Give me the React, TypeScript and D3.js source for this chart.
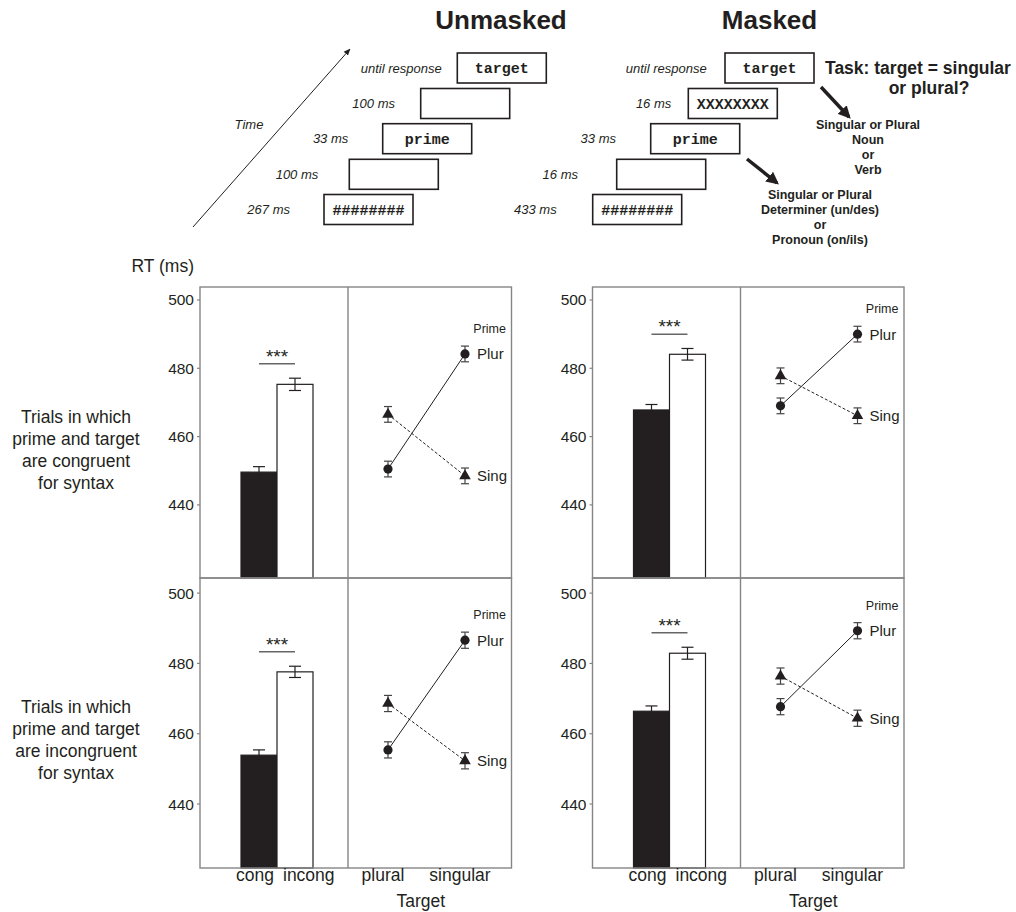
import React from "react";
import * as d3 from "d3";

// ---------- DATA ----------
const groups = ["Unmasked", "Masked"];
const rowLabels = [
  ["Trials in which", "prime and target", "are congruent", "for syntax"],
  ["Trials in which", "prime and target", "are incongruent", "for syntax"],
];
const conditions = ["cong", "incong"];
const targets = ["plural", "singular"];
const primes = ["Plur", "Sing"];
const yTicks = [440, 460, 480, 500];
const rowDomains: [number, number][] = [
  [418.6, 503.8],
  [421.8, 504.3],
];

// bar means [cong, incong]
const barsUnmaskedCongruent = [449.6, 475.3];
const barsMaskedCongruent = [467.8, 484.1];
const barsUnmaskedIncongruent = [453.9, 477.6];
const barsMaskedIncongruent = [466.4, 482.9];
const barErrUnmaskedCongruent = [1.6, 1.8];
const barErrMaskedCongruent = [1.6, 1.7];
const barErrUnmaskedIncongruent = [1.5, 1.6];
const barErrMaskedIncongruent = [1.5, 1.7];
const sigLevel = [
  [481.3, 490.0],
  [483.3, 488.7],
];

// line means [plural target, singular target]
const plurUnmaskedCongruent = [450.5, 484.2];
const singUnmaskedCongruent = [466.5, 448.5];
const plurMaskedCongruent = [469.0, 490.0];
const singMaskedCongruent = [477.8, 466.1];
const plurUnmaskedIncongruent = [455.4, 486.6];
const singUnmaskedIncongruent = [468.6, 452.3];
const plurMaskedIncongruent = [467.7, 489.3];
const singMaskedIncongruent = [476.4, 464.4];
const lineErr = [2.3, 2.3];

const barData = [
  [barsUnmaskedCongruent, barsMaskedCongruent],
  [barsUnmaskedIncongruent, barsMaskedIncongruent],
];
const barErrData = [
  [barErrUnmaskedCongruent, barErrMaskedCongruent],
  [barErrUnmaskedIncongruent, barErrMaskedIncongruent],
];
const lineData = [
  [
    [plurUnmaskedCongruent, singUnmaskedCongruent],
    [plurMaskedCongruent, singMaskedCongruent],
  ],
  [
    [plurUnmaskedIncongruent, singUnmaskedIncongruent],
    [plurMaskedIncongruent, singMaskedIncongruent],
  ],
];

// procedure diagram
const unmaskedSteps = [
  { label: "267 ms", text: "########" },
  { label: "100 ms", text: "" },
  { label: "33 ms", text: "prime" },
  { label: "100 ms", text: "" },
  { label: "until response", text: "target" },
];
const maskedSteps = [
  { label: "433 ms", text: "########" },
  { label: "16 ms", text: "" },
  { label: "33 ms", text: "prime" },
  { label: "16 ms", text: "XXXXXXXX" },
  { label: "until response", text: "target" },
];

// ---------- LAYOUT ----------
const FONT = "'Liberation Sans', Arial, Helvetica, sans-serif";
const MONO = "'Liberation Mono', 'Courier New', monospace";
const INK = "#231f20";
const FRAME = "#858585";
const groupLeft = [200, 592.5];
const barW = 148;
const lineW = 163.5;
const rowTop = [287, 578];
const rowBottom = [578, 868];

const diagBoxX = [
  [324, 349.3, 382.7, 420.7, 457.3],
  [592.7, 616.7, 650.7, 688.3, 725],
];
const diagBoxY = [194.5, 159.3, 123.7, 88.5, 53];
const diagLabelOffset = [
  [-34, -31, -34.4, -25.7, -15.6],
  [-36, -38.7, -34.7, -17, -18.3],
];

function Diagram({ steps, gi }: { steps: { label: string; text: string }[]; gi: number }) {
  return (
    <g>
      {steps.map((s, i) => {
        const x = diagBoxX[gi][i];
        const y = diagBoxY[i];
        return (
          <g key={i}>
            <rect x={x} y={y} width={89} height={30} fill="#fff" stroke={INK} strokeWidth={1.6} />
            {s.text && (
              <text x={x + 44.5} y={y + 20} textAnchor="middle" fontFamily={MONO} fontWeight="bold" fontSize={15} fill={INK}>
                {s.text}
              </text>
            )}
            <text x={x + diagLabelOffset[gi][i]} y={y + 19.5} textAnchor="end" fontFamily={FONT} fontStyle="italic" fontSize={13} fill={INK}>
              {s.label}
            </text>
          </g>
        );
      })}
    </g>
  );
}

function Panel({ gi, ri }: { gi: number; ri: number }) {
  const left = groupLeft[gi];
  const top = rowTop[ri];
  const bottom = rowBottom[ri];
  const divX = left + barW;
  const right = divX + lineW;
  const y = d3.scaleLinear().domain(rowDomains[ri]).range([bottom, top]);
  const xb = d3.scaleBand().domain(conditions).range([left + 41, left + 113]).padding(0);
  const xp = d3.scalePoint().domain(targets).range([divX + 40, divX + 117]);
  const bars = barData[ri][gi];
  const errs = barErrData[ri][gi];
  const lines = lineData[ri][gi];
  const line = d3
    .line<number>()
    .x((_, i) => xp(targets[i]) as number)
    .y((d) => y(d));
  const tri = d3.symbol().type(d3.symbolTriangle).size(58)() as string;
  const sig = sigLevel[ri][gi];
  return (
    <g>
      {/* bars */}
      {conditions.map((c, i) => (
        <rect
          key={c}
          x={xb(c)}
          y={y(bars[i])}
          width={xb.bandwidth()}
          height={bottom - y(bars[i])}
          fill={i === 0 ? INK : "#fff"}
          stroke={INK}
          strokeWidth={1.2}
        />
      ))}
      {conditions.map((c, i) => {
        const cx = (xb(c) as number) + xb.bandwidth() / 2;
        const y1 = y(bars[i] + errs[i]);
        const y2 = y(bars[i] - errs[i]);
        return (
          <g key={c + "e"} stroke={INK} strokeWidth={1.2}>
            <line x1={cx} x2={cx} y1={y1} y2={y2} />
            <line x1={cx - 6} x2={cx + 6} y1={y1} y2={y1} />
            <line x1={cx - 6} x2={cx + 6} y1={y2} y2={y2} />
          </g>
        );
      })}
      {/* significance */}
      {(() => {
        const x1 = (xb("cong") as number) + xb.bandwidth() / 2;
        const x2 = (xb("incong") as number) + xb.bandwidth() / 2;
        return (
          <g>
            <line x1={x1} x2={x2} y1={y(sig)} y2={y(sig)} stroke="#666" strokeWidth={1.5} />
            <text x={(x1 + x2) / 2} y={y(sig) - 1} textAnchor="middle" fontFamily={FONT} fontSize={19} fill={INK}>
              ***
            </text>
          </g>
        );
      })()}
      {/* frame */}
      <rect x={left} y={top} width={barW + lineW} height={bottom - top} fill="none" stroke={FRAME} strokeWidth={1.4} />
      <line x1={divX} x2={divX} y1={top} y2={bottom} stroke={FRAME} strokeWidth={1.4} />
      {/* y ticks */}
      {yTicks.map((t) => (
        <g key={t}>
          <line x1={left - 3} x2={left} y1={y(t)} y2={y(t)} stroke={FRAME} strokeWidth={1.2} />
          <text x={left - 6} y={y(t) + 5.5} textAnchor="end" fontFamily={FONT} fontSize={15.5} fill={INK}>
            {t}
          </text>
        </g>
      ))}
      {/* lines */}
      {lines.map((vals, pi) => (
        <path
          key={pi}
          d={line(vals) as string}
          fill="none"
          stroke={INK}
          strokeWidth={1}
          strokeDasharray={pi === 1 ? "3,2" : undefined}
        />
      ))}
      {lines.map((vals, pi) =>
        vals.map((v, ti) => {
          const cx = xp(targets[ti]) as number;
          const cy = y(v);
          const y1 = y(v + lineErr[ti]);
          const y2 = y(v - lineErr[ti]);
          return (
            <g key={pi + "-" + ti}>
              <g stroke="#444" strokeWidth={1.2}>
                <line x1={cx} x2={cx} y1={y1} y2={y2} />
                <line x1={cx - 4} x2={cx + 4} y1={y1} y2={y1} />
                <line x1={cx - 4} x2={cx + 4} y1={y2} y2={y2} />
              </g>
              {pi === 0 ? (
                <circle cx={cx} cy={cy} r={4.6} fill={INK} />
              ) : (
                <path d={tri} transform={`translate(${cx},${cy})`} fill={INK} />
              )}
            </g>
          );
        })
      )}
      {/* prime legend */}
      {lines.map((vals, pi) => (
        <text
          key={"l" + pi}
          x={(xp("singular") as number) + 12}
          y={y(vals[1]) + 5.5}
          fontFamily={FONT}
          fontSize={15}
          fill={INK}
        >
          {primes[pi]}
        </text>
      ))}
      <text x={right - 5.5} y={y(lines[0][1]) - 21} textAnchor="end" fontFamily={FONT} fontSize={12.5} fill={INK}>
        Prime
      </text>
      {/* x labels (bottom row only) */}
      {ri === 1 && (
        <g fontFamily={FONT} fontSize={17.5} fill={INK}>
          <text x={(xb("incong") as number) - 3} y={881} textAnchor="end">
            cong
          </text>
          <text x={(xb("incong") as number) + 6} y={881} textAnchor="start">
            incong
          </text>
          {targets.map((t) => (
            <text key={t} x={(xp(t) as number) - 5} y={881} textAnchor="middle">
              {t}
            </text>
          ))}
          <text x={(divX + right) / 2 - 9} y={907} textAnchor="middle">
            Target
          </text>
        </g>
      )}
    </g>
  );
}

export default function App() {
  return (
    <div style={{ position: "absolute", left: 0, top: 0, width: 1016, height: 912, background: "#fff" }}>
      <svg width={1016} height={912} viewBox="0 0 1016 912" style={{ display: "block" }}>
        <defs>
          <marker id="thinArrow" viewBox="0 0 10 10" refX="9" refY="5" markerWidth="7" markerHeight="7" orient="auto">
            <path d="M0,1 L10,5 L0,9 z" fill={INK} />
          </marker>
          <marker id="boldArrow" viewBox="0 0 10 10" refX="8" refY="5" markerWidth="3.6" markerHeight="3.6" orient="auto">
            <path d="M0,0 L10,5 L0,10 z" fill={INK} />
          </marker>
        </defs>
        <rect width={1016} height={912} fill="#fff" />
        {/* titles */}
        <text x={501} y={28.5} textAnchor="middle" fontFamily={FONT} fontWeight="bold" fontSize={26} fill={INK}>
          {groups[0]}
        </text>
        <text x={769.5} y={28.5} textAnchor="middle" fontFamily={FONT} fontWeight="bold" fontSize={26} fill={INK}>
          {groups[1]}
        </text>
        {/* time arrow */}
        <line x1={193} y1={227} x2={350} y2={49} stroke={INK} strokeWidth={1} markerEnd="url(#thinArrow)" />
        <text x={249} y={128.5} textAnchor="middle" fontFamily={FONT} fontStyle="italic" fontSize={13} fill={INK}>
          Time
        </text>
        <Diagram steps={unmaskedSteps} gi={0} />
        <Diagram steps={maskedSteps} gi={1} />
        {/* bold arrows */}
        <line x1={821} y1={87} x2={849} y2={117} stroke={INK} strokeWidth={3.5} markerEnd="url(#boldArrow)" />
        <line x1={747} y1={159} x2={777} y2={183} stroke={INK} strokeWidth={3.5} markerEnd="url(#boldArrow)" />
        <g fontFamily={FONT} fontWeight="bold" fill={INK}>
          <text x={825} y={74} fontSize={17.5}>
            Task: target = singular
          </text>
          <text x={929} y={94} fontSize={17.5} textAnchor="middle">
            or plural?
          </text>
          {["Singular or Plural", "Noun", "or", "Verb"].map((t, i) => (
            <text key={t} x={868} y={128.5 + i * 15} fontSize={12.5} textAnchor="middle">
              {t}
            </text>
          ))}
          {["Singular or Plural", "Determiner (un/des)", "or", "Pronoun (on/ils)"].map((t, i) => (
            <text key={t} x={820} y={198.5 + i * 15.3} fontSize={12.5} textAnchor="middle">
              {t}
            </text>
          ))}
        </g>
        {/* y axis title */}
        <text x={194} y={272} textAnchor="end" fontFamily={FONT} fontSize={17.5} fill={INK}>
          RT (ms)
        </text>
        {/* row labels */}
        {rowLabels.map((lines, ri) =>
          lines.map((l, li) => (
            <text
              key={ri + "-" + li}
              x={76}
              y={(ri === 0 ? 423 : 713) + li * 22}
              textAnchor="middle"
              fontFamily={FONT}
              fontSize={17.5}
              fill={INK}
            >
              {l}
            </text>
          ))
        )}
        {[0, 1].map((ri) => [0, 1].map((gi) => <Panel key={ri + "-" + gi} gi={gi} ri={ri} />))}
      </svg>
    </div>
  );
}
